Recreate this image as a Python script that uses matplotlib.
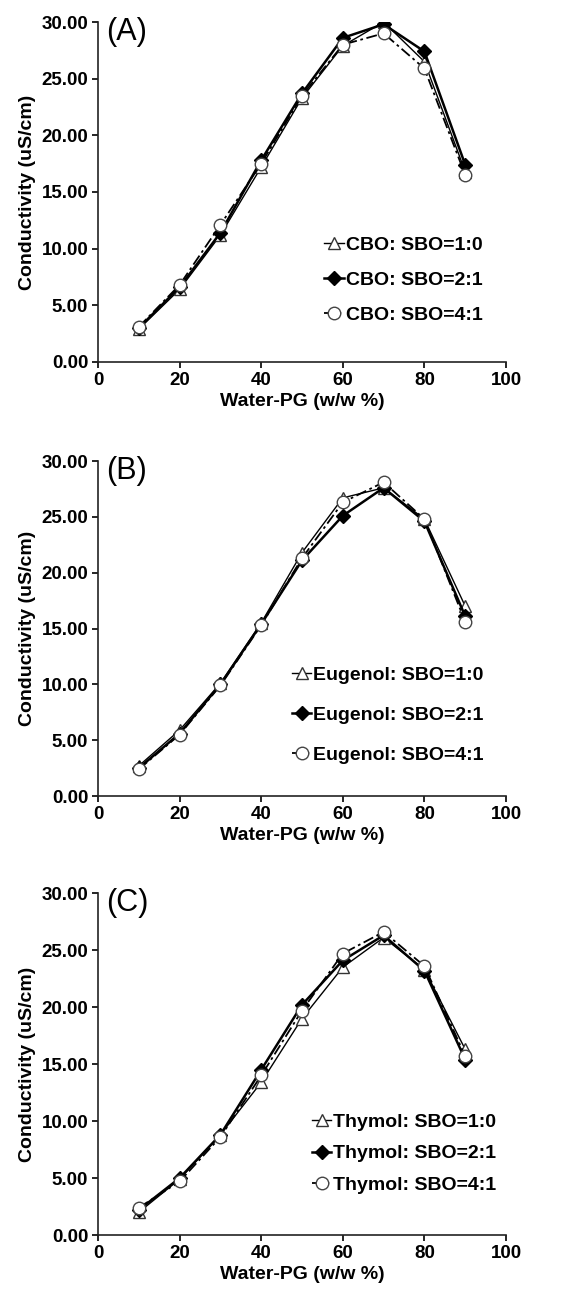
import matplotlib
matplotlib.use("Agg")
import matplotlib.pyplot as plt

plt.rcParams['font.family'] = ['Liberation Sans', 'DejaVu Sans']

water_pg = [10, 20, 30, 40, 50, 60, 70, 80, 90]

# panel A: CBO
cbo_10 = [2.9, 6.4, 11.2, 17.2, 23.3, 27.9, 30.0, 26.5, 16.8]
cbo_21 = [3.0, 6.6, 11.4, 17.8, 23.7, 28.6, 29.8, 27.4, 17.4]
cbo_41 = [3.1, 6.8, 12.1, 17.5, 23.5, 28.0, 29.0, 25.9, 16.5]

# panel B: Eugenol
eug_10 = [2.7, 5.9, 10.1, 15.5, 21.8, 26.7, 27.6, 24.8, 17.0]
eug_21 = [2.5, 5.6, 10.0, 15.4, 21.1, 25.1, 27.6, 24.6, 16.1]
eug_41 = [2.4, 5.5, 9.9, 15.3, 21.3, 26.3, 28.1, 24.8, 15.6]

# panel C: Thymol
thy_10 = [2.0, 4.9, 8.8, 13.4, 19.0, 23.5, 26.1, 23.3, 16.3]
thy_21 = [2.2, 5.0, 8.8, 14.5, 20.2, 24.1, 26.3, 23.2, 15.4]
thy_41 = [2.4, 4.7, 8.6, 14.0, 19.7, 24.7, 26.6, 23.6, 15.7]

panels = [
    ("(A)", "CBO", cbo_10, cbo_21, cbo_41),
    ("(B)", "Eugenol", eug_10, eug_21, eug_41),
    ("(C)", "Thymol", thy_10, thy_21, thy_41),
]
ratios = ["1:0", "2:1", "4:1"]

# axes boxes in figure fraction [left, bottom, width, height]
boxes = [
    [0.1747, 0.7205, 0.7273, 0.2625],
    [0.1747, 0.3853, 0.7273, 0.2587],
    [0.1747, 0.0463, 0.7273, 0.2640],
]
# upper-left corner of each legend (axes fraction)
legend_pos = [(0.555, 0.37), (0.475, 0.387), (0.524, 0.357)]
legend_gap = [0.9, 1.15, 0.73]

fig = plt.figure(figsize=(5.61, 12.95), dpi=100)

for i, (tag, name, s10, s21, s41) in enumerate(panels):
    ax = fig.add_axes(boxes[i])
    ax.plot(water_pg, s10, color='black', lw=1.0, ls='-', marker='^', ms=8.5,
            mfc='white', mec='#333333', mew=1.0, label=f"{name}: SBO={ratios[0]}")
    ax.plot(water_pg, s21, color='black', lw=1.8, ls='-', marker='D', ms=7,
            mfc='black', mec='black', label=f"{name}: SBO={ratios[1]}")
    ax.plot(water_pg, s41, color='black', lw=1.3, ls=(0, (6, 2, 1.5, 2)), marker='o', ms=9,
            mfc='white', mec='#444444', mew=1.0, label=f"{name}: SBO={ratios[2]}")

    ax.set_xlim(0, 100)
    ax.set_ylim(0, 30)
    ax.set_xticks([0, 20, 40, 60, 80, 100])
    ax.set_yticks([0, 5, 10, 15, 20, 25, 30])
    ax.set_yticklabels([f"{v:.2f}" for v in [0, 5, 10, 15, 20, 25, 30]])
    for sp in ['top', 'right']:
        ax.spines[sp].set_visible(False)
    for sp in ['left', 'bottom']:
        ax.spines[sp].set_linewidth(1.2)
        ax.spines[sp].set_color('#222222')
    ax.tick_params(direction='out', length=4, width=1.2, labelsize=13.5, pad=3)
    for lab in ax.get_xticklabels() + ax.get_yticklabels():
        lab.set_fontweight('bold')
    ax.set_xlabel("Water-PG (w/w %)", fontsize=14, fontweight='bold', labelpad=3)
    ax.set_ylabel("Conductivity (uS/cm)", fontsize=14, fontweight='bold', labelpad=4)
    ax.text(0.02, 1.015, tag, transform=ax.transAxes, fontsize=22, va='top', ha='left')

    leg = ax.legend(loc='upper left', bbox_to_anchor=legend_pos[i], frameon=False,
                    fontsize=14, handlelength=1.0, handletextpad=0.1,
                    labelspacing=legend_gap[i], borderaxespad=0, borderpad=0)
    for t in leg.get_texts():
        t.set_fontweight('bold')

fig.savefig("out.png", dpi=100)
